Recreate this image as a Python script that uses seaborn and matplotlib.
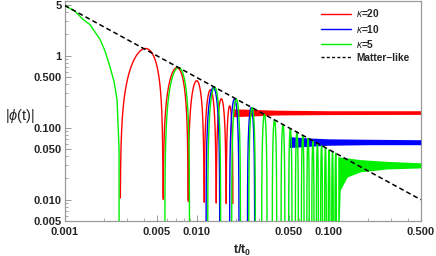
import numpy as np
import pandas as pd
import matplotlib
matplotlib.use('Agg')
import matplotlib.pyplot as plt
import seaborn as sns
from matplotlib.lines import Line2D
from matplotlib.ticker import FixedLocator, FixedFormatter, LogLocator, NullFormatter

# ---- values ----
# first swing from t=0.001 (all curves start together, green on top)
head_t = [0.0010, 0.0012, 0.00138, 0.00156, 0.00186, 0.00203, 0.00221, 0.00237, 0.00250, 0.00259, 0.00264]
head_v = [5.0, 4.15, 3.2, 2.7, 1.68, 1.15, 0.70, 0.44, 0.245, 0.05, 0.0]

# kappa = 20 : consecutive zeros and arch tops, then a flat noisy band
red_zeros = [0.00264, 0.00558, 0.00864, 0.01142, 0.01408, 0.01676, 0.0189]
red_peaks = [1.26, 0.683, 0.449, 0.336, 0.252, 0.201]
red_floor = 0.0088
red_band_t = [0.0189, 0.04, 0.1, 0.5]
red_band_hi = [0.183, 0.175, 0.172, 0.172]
red_band_lo = [0.142, 0.150, 0.152, 0.153]

# kappa = 10
blue_left = [0.0118, 0.0178, 0.0243]
blue_right = [0.0150, 0.0210, 0.0276]
blue_peaks = [0.36, 0.25, 0.19]
blue_band_t = [0.0504, 0.0506, 0.07, 0.1, 0.2, 0.5]
blue_band_hi = [0.075, 0.075, 0.072, 0.070, 0.069, 0.068]
blue_band_lo = [0.001, 0.053, 0.055, 0.057, 0.058, 0.058]

# kappa = 5
green_left = [0.00575, 0.01215, 0.01845, 0.02485, 0.03115, 0.03745, 0.04365, 0.04985, 0.05605,
              0.06225, 0.06845, 0.07465, 0.08085, 0.08705, 0.09325, 0.09945, 0.10565, 0.11185]
green_right = [0.00885, 0.01525, 0.02155, 0.02795, 0.03425, 0.04055, 0.04675, 0.05295, 0.05915,
               0.06535, 0.07155, 0.07775, 0.08395, 0.09015, 0.09635, 0.10255, 0.10875, 0.11495]
green_peaks = [0.685, 0.365, 0.25, 0.19, 0.153, 0.128, 0.110, 0.097, 0.087,
               0.078, 0.071, 0.065, 0.060, 0.056, 0.052, 0.049, 0.046, 0.044]
green_band_t = [0.1175, 0.1227, 0.1387, 0.1738, 0.2786, 0.5]
green_band_hi = [0.040, 0.039, 0.038, 0.036, 0.034, 0.0325]
green_band_lo = [0.001, 0.0136, 0.0207, 0.0243, 0.0267, 0.0276]

# matter-like reference line
matter_t = [0.001, 0.5]
matter_v = [5.0, 0.01]

x_ticks = [0.001, 0.005, 0.01, 0.05, 0.1, 0.5]
x_labels = ['0.001', '0.005', '0.010', '0.050', '0.100', '0.500']
y_ticks = [0.005, 0.01, 0.05, 0.1, 0.5, 1, 5]
y_labels = ['0.005', '0.010', '0.050', '0.100', '0.500', '1', '5']

RED, BLUE, GREEN = '#ff0000', '#0000ff', '#00f000'


def arches(lefts, rights, peaks, floor=0.0, n=1500):
    rows = []
    for k, (a, b, p) in enumerate(zip(lefts, rights, peaks)):
        t = np.linspace(a, b, n)
        v = p * np.abs(np.sin(np.pi * (t - a) / (b - a)))
        if floor > 0:
            keep = v >= floor
            t, v = t[keep], v[keep]
        rows.append(pd.DataFrame({'t': t, 'v': v, 'seg': k}))
    return pd.concat(rows, ignore_index=True)


red_df = arches(red_zeros[:-1], red_zeros[1:], red_peaks, floor=red_floor)
blue_df = arches(blue_left, blue_right, blue_peaks)
green_df = arches(green_left, green_right, green_peaks)
head_df = pd.DataFrame({'t': head_t, 'v': head_v})

sns.set_style('ticks')
plt.rcParams['font.family'] = ['Liberation Sans', 'DejaVu Sans']
plt.rcParams['mathtext.fontset'] = 'custom'
plt.rcParams['mathtext.rm'] = 'Liberation Sans'
plt.rcParams['mathtext.it'] = 'Liberation Sans:italic'
plt.rcParams['mathtext.bf'] = 'Liberation Sans:bold'

fig = plt.figure(figsize=(4.36, 2.56), dpi=100)
ax = fig.add_axes([0.148, 0.1355, 0.817, 0.859])

lw = 1.0
# red lowest
ax.fill_between(red_band_t, red_band_lo, red_band_hi, color=RED, lw=0, zorder=2)
sns.lineplot(data=red_df, x='t', y='v', units='seg', estimator=None, sort=False,
             color=RED, lw=lw, ax=ax, zorder=2)
# blue
ax.fill_between(blue_band_t, blue_band_lo, blue_band_hi, color=BLUE, lw=0, zorder=3)
sns.lineplot(data=blue_df, x='t', y='v', units='seg', estimator=None, sort=False,
             color=BLUE, lw=lw, ax=ax, zorder=3)
# green on top
ax.fill_between(green_band_t, green_band_lo, green_band_hi, color=GREEN, lw=0, zorder=4)
sns.lineplot(data=green_df, x='t', y='v', units='seg', estimator=None, sort=False,
             color=GREEN, lw=lw, ax=ax, zorder=4)
sns.lineplot(data=head_df, x='t', y='v', sort=False, color=GREEN, lw=lw, ax=ax, zorder=4)
# matter-like
sns.lineplot(x=matter_t, y=matter_v, color='black', lw=1.1, ax=ax, zorder=5,
             dashes=False, linestyle=(0, (3.2, 2.0)))

ax.set_xscale('log')
ax.set_yscale('log')
ax.set_xlim(0.001, 0.5)
ax.set_ylim(0.005, 5.68)

ax.xaxis.set_major_locator(FixedLocator(x_ticks))
ax.xaxis.set_major_formatter(FixedFormatter(x_labels))
ax.yaxis.set_major_locator(FixedLocator(y_ticks))
ax.yaxis.set_major_formatter(FixedFormatter(y_labels))
ax.xaxis.set_minor_locator(LogLocator(subs=np.arange(2, 10)))
ax.yaxis.set_minor_locator(LogLocator(subs=np.arange(2, 10)))
ax.xaxis.set_minor_formatter(NullFormatter())
ax.yaxis.set_minor_formatter(NullFormatter())

frame = '#9a9a9a'
for s in ax.spines.values():
    s.set_color(frame)
    s.set_linewidth(0.9)
ax.tick_params(which='both', direction='in', color=frame, labelsize=8)
ax.tick_params(axis='x', which='both', pad=4)
ax.tick_params(axis='y', which='both', pad=2)
ax.tick_params(which='major', length=4, width=0.7)
ax.tick_params(which='minor', length=2, width=0.6)
for lab in ax.get_xticklabels() + ax.get_yticklabels():
    lab.set_fontweight('bold')

ax.set_xlabel(r'$\mathbf{t/t_0}$', fontsize=9, labelpad=4)
ax.set_ylabel(r'$|\phi(\mathrm{t})|$', fontsize=10.5, rotation=0, va='center')
ax.yaxis.set_label_coords(-0.125, 0.48)

handles = [Line2D([], [], color=RED, lw=1.0),
           Line2D([], [], color=BLUE, lw=1.0),
           Line2D([], [], color=GREEN, lw=1.0),
           Line2D([], [], color='black', lw=1.0, linestyle=(0, (2.2, 1.6)))]
labels = [r'$\kappa$=20', r'$\kappa$=10', r'$\kappa$=5', 'Matter\u2212like']
leg = ax.legend(handles, labels, loc='upper right', frameon=False, fontsize=7.3,
                handlelength=3.0, handletextpad=0.5, labelspacing=0.3,
                bbox_to_anchor=(0.985, 1.0), borderaxespad=0.2)
for txt in leg.get_texts():
    txt.set_fontweight('bold')

fig.savefig('out.png', dpi=100)
